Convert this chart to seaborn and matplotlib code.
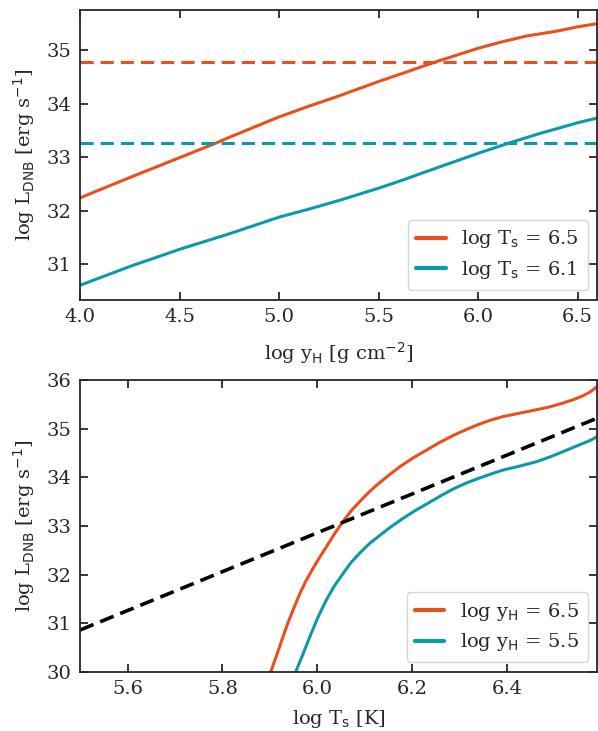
import numpy as np
import pandas as pd
import matplotlib
matplotlib.use("Agg")
import matplotlib.pyplot as plt
import seaborn as sns

# top panel: log L_DNB vs log y_H
yH_hot = [4.0, 4.25, 4.5, 4.675, 4.75, 5.0, 5.15, 5.3, 5.5, 5.65, 5.79, 6.0,
          6.12, 6.245, 6.396, 6.5, 6.6]
L_hot = [32.24, 32.62, 32.99, 33.25, 33.37, 33.75, 33.95, 34.14, 34.41, 34.60,
         34.78, 35.03, 35.15, 35.26, 35.35, 35.43, 35.49]
yH_cool = [4.0, 4.25, 4.5, 4.75, 5.0, 5.15, 5.3, 5.5, 5.62, 5.74, 5.87, 6.0,
           6.153, 6.31, 6.5, 6.6]
L_cool = [30.61, 30.96, 31.28, 31.57, 31.88, 32.03, 32.19, 32.42, 32.57, 32.73,
          32.90, 33.07, 33.26, 33.44, 33.64, 33.73]
L_ref_hot = 34.78
L_ref_cool = 33.26

# bottom panel: log L_DNB vs log T_s
Ts_deep = [5.900, 5.918, 5.935, 5.949, 5.963, 5.977, 5.991, 6.005, 6.019, 6.036,
           6.054, 6.071, 6.089, 6.107, 6.125, 6.150, 6.174, 6.200, 6.230, 6.258,
           6.286, 6.313, 6.340, 6.366, 6.391, 6.426, 6.461, 6.490, 6.518, 6.540,
           6.560, 6.575, 6.590]
L_deep = [29.95, 30.45, 30.93, 31.28, 31.61, 31.89, 32.13, 32.36, 32.57, 32.84,
          33.09, 33.31, 33.50, 33.68, 33.84, 34.04, 34.22, 34.39, 34.56, 34.72,
          34.86, 34.98, 35.09, 35.18, 35.25, 35.32, 35.39, 35.45, 35.53, 35.60,
          35.68, 35.76, 35.87]
Ts_shallow = [5.950, 5.967, 5.984, 6.001, 6.019, 6.036, 6.054, 6.071, 6.089,
              6.110, 6.132, 6.156, 6.181, 6.205, 6.230, 6.258, 6.286, 6.313,
              6.340, 6.366, 6.391, 6.426, 6.461, 6.490, 6.518, 6.540, 6.560,
              6.575, 6.590]
L_shallow = [29.90, 30.30, 30.72, 31.12, 31.48, 31.77, 32.02, 32.25, 32.44,
             32.64, 32.81, 32.99, 33.16, 33.31, 33.45, 33.61, 33.76, 33.88,
             33.98, 34.07, 34.15, 34.23, 34.32, 34.42, 34.53, 34.62, 34.70,
             34.76, 34.84]
Ts_bb = [5.5, 6.59]
L_bb = [30.86, 35.22]

orange = "#e8501e"
teal = "#0b9aa9"

sns.set_style("ticks")
plt.rcParams["font.family"] = ["DejaVu Serif"]
plt.rcParams["mathtext.fontset"] = "dejavusans"
plt.rcParams["font.size"] = 14
plt.rcParams["axes.linewidth"] = 1.3

fig = plt.figure(figsize=(5.98, 7.31), dpi=100)
ax1 = fig.add_axes([0.134, 0.590, 0.865, 0.396])
ax2 = fig.add_axes([0.134, 0.081, 0.865, 0.399])

top_hot = pd.DataFrame({"x": yH_hot, "L": L_hot})
top_cool = pd.DataFrame({"x": yH_cool, "L": L_cool})
sns.lineplot(data=top_hot, x="x", y="L", ax=ax1, color=orange, lw=2.2,
             label=r"log T$_{\rm s}$ = 6.5")
sns.lineplot(data=top_cool, x="x", y="L", ax=ax1, color=teal, lw=2.2,
             label=r"log T$_{\rm s}$ = 6.1")
ax1.axhline(L_ref_hot, color=orange, lw=2.2, dashes=(4.3, 2.3))
ax1.axhline(L_ref_cool, color=teal, lw=2.2, dashes=(4.3, 2.3))
ax1.set_xlim(4.0, 6.6)
ax1.set_ylim(30.34, 35.74)
ax1.set_xticks([4.0, 4.5, 5.0, 5.5, 6.0, 6.5])
ax1.set_yticks([31, 32, 33, 34, 35])
ax1.set_xlabel(r"log y$_{\rm H}$ [g cm$^{-2}$]", fontsize=14, labelpad=10)
ax1.set_ylabel(r"log L$_{\rm DNB}$ [erg s$^{-1}$]", fontsize=14, labelpad=7)

bot_deep = pd.DataFrame({"x": Ts_deep, "L": L_deep})
bot_shallow = pd.DataFrame({"x": Ts_shallow, "L": L_shallow})
sns.lineplot(data=bot_deep, x="x", y="L", ax=ax2, color=orange, lw=2.2,
             label=r"log y$_{\rm H}$ = 6.5")
sns.lineplot(data=bot_shallow, x="x", y="L", ax=ax2, color=teal, lw=2.2,
             label=r"log y$_{\rm H}$ = 5.5")
ax2.plot(Ts_bb, L_bb, color="black", lw=2.6, dashes=(4.0, 2.0))
ax2.set_xlim(5.5, 6.59)
ax2.set_ylim(30, 36)
ax2.set_xticks([5.6, 5.8, 6.0, 6.2, 6.4])
ax2.set_xlabel(r"log T$_{\rm s}$ [K]", fontsize=14, labelpad=7)
ax2.set_ylabel(r"log L$_{\rm DNB}$ [erg s$^{-1}$]", fontsize=14, labelpad=7)

for ax in (ax1, ax2):
    ax.tick_params(direction="in", top=True, right=True, length=6, width=1.3,
                   labelsize=14, pad=6)
    leg = ax.legend(loc="lower right", fontsize=14, handlelength=1.5,
                    borderpad=0.45, labelspacing=0.45)
    for line in leg.get_lines():
        line.set_linewidth(3)

fig.savefig("out.png", dpi=100)
